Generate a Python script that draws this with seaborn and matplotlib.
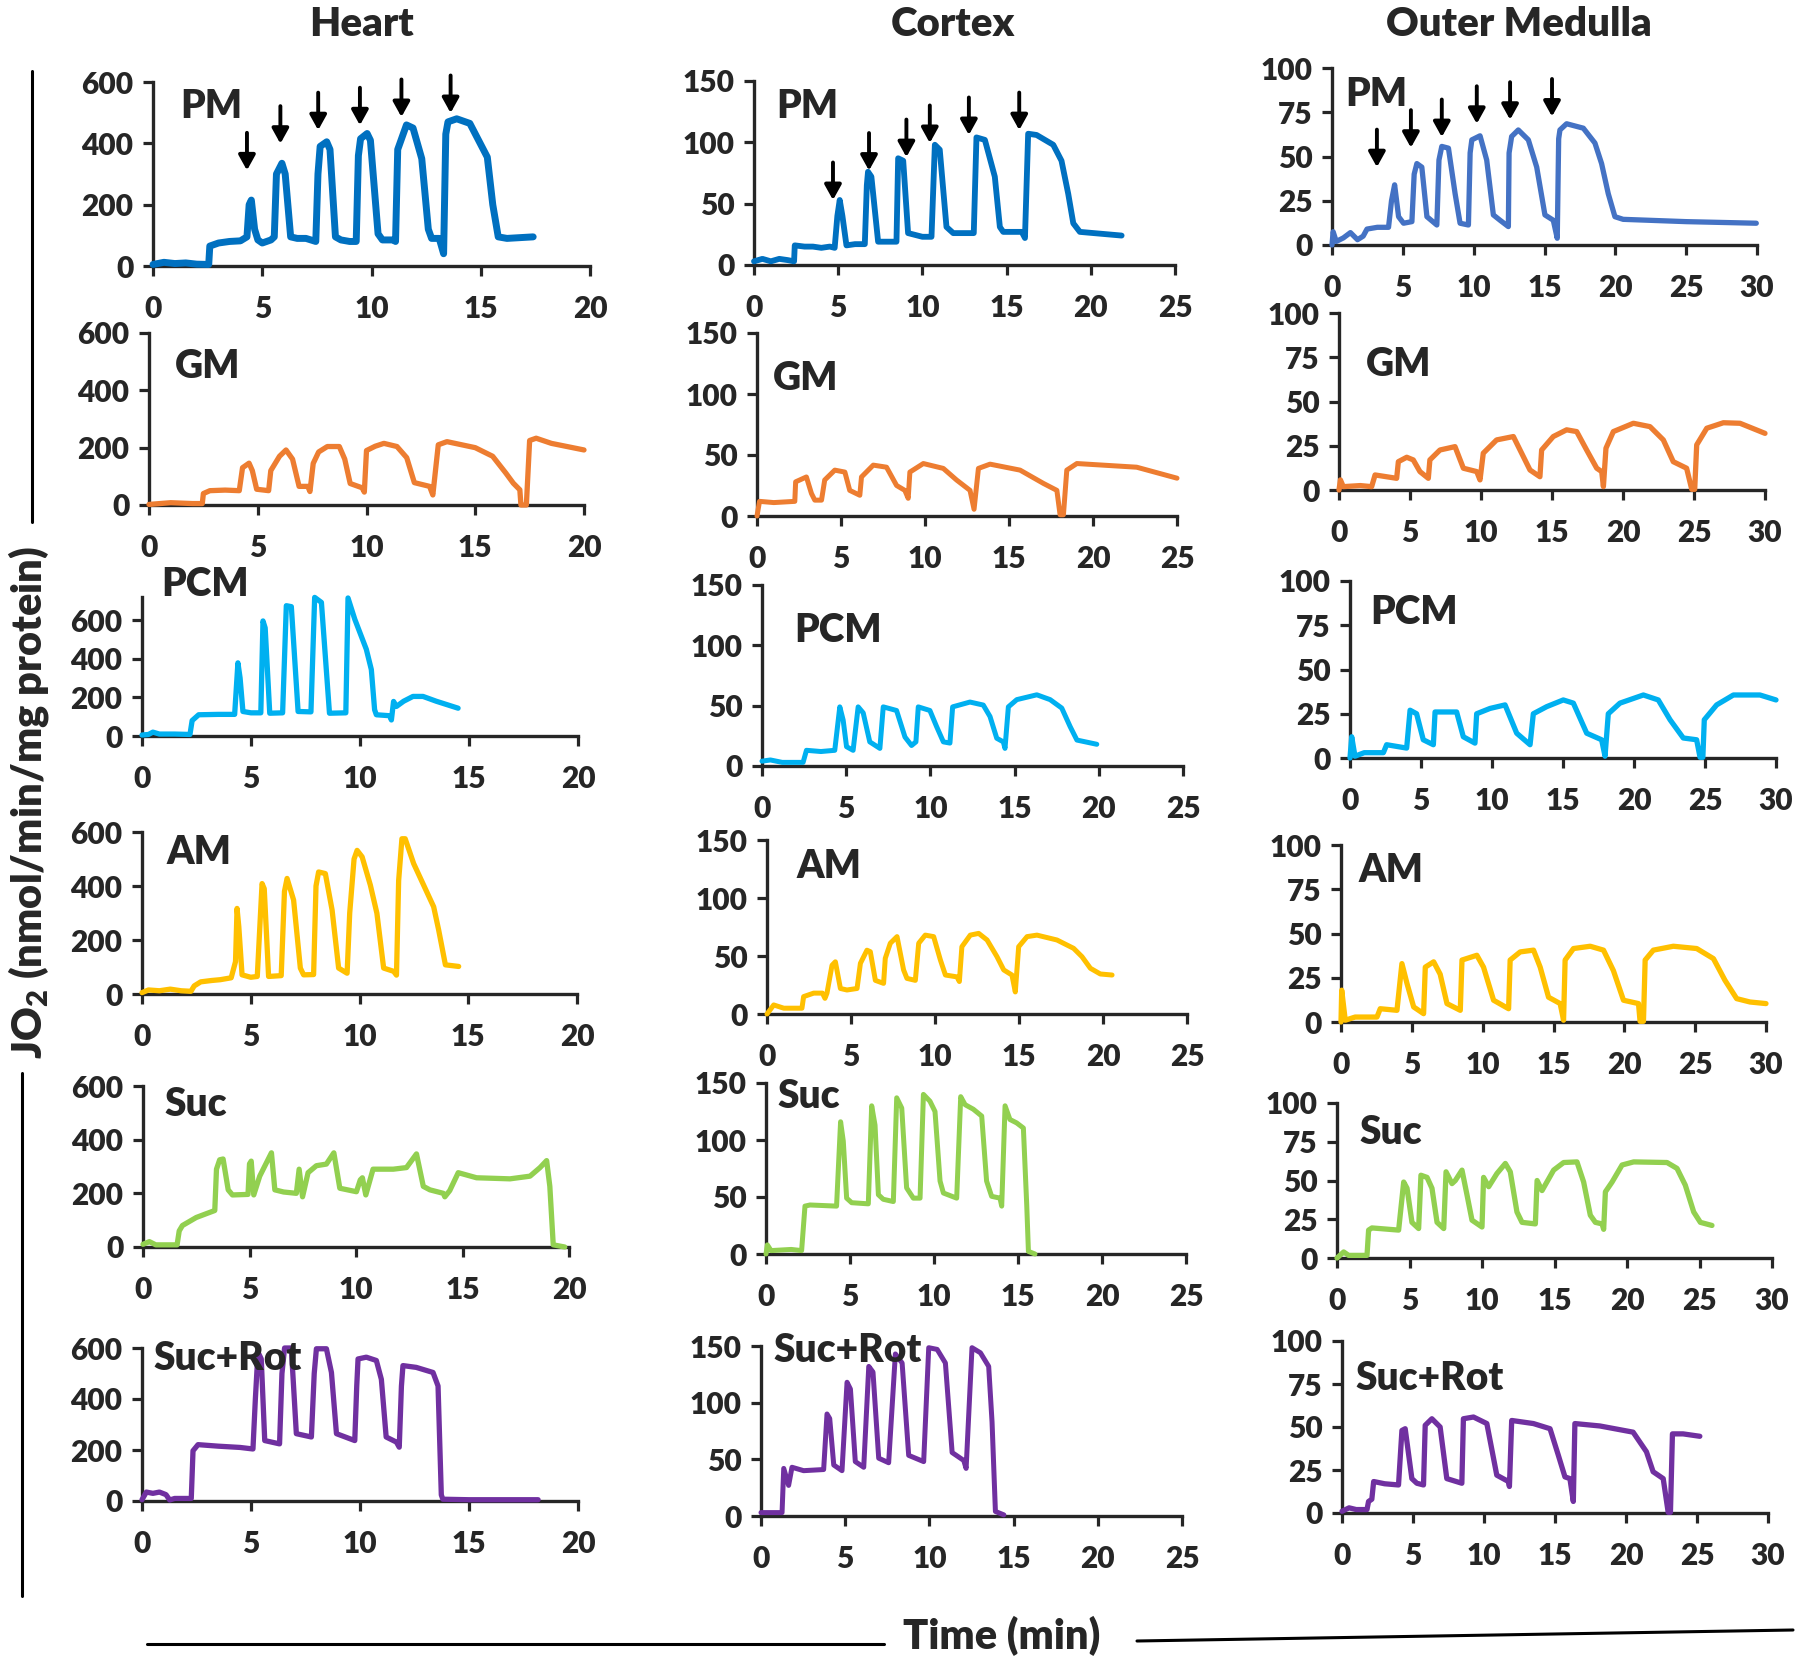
import matplotlib
matplotlib.use("Agg")
import matplotlib.pyplot as plt
from matplotlib.lines import Line2D
import seaborn as sns
import pandas as pd

# ---- traces: (time min, JO2) ----
heart_pm = [(0, 5), (0.5, 12), (1.0, 8), (1.5, 10), (2.0, 6), (2.55, 5), (2.6, 65), (3.0, 75), (3.5, 80),
            (4.0, 82), (4.3, 95), (4.4, 200), (4.5, 215), (4.65, 120), (4.8, 85), (5.0, 75), (5.4, 85),
            (5.55, 95), (5.65, 300), (5.9, 335), (6.05, 300), (6.3, 95), (6.6, 90), (7.0, 90), (7.45, 80),
            (7.55, 300), (7.65, 390), (7.95, 405), (8.1, 380), (8.35, 95), (8.6, 85), (9.0, 80), (9.3, 80),
            (9.4, 360), (9.5, 415), (9.8, 432), (9.95, 410), (10.3, 105), (10.5, 85), (11.0, 85), (11.1, 80),
            (11.2, 380), (11.6, 460), (11.9, 450), (12.3, 350), (12.6, 120), (12.75, 90), (13.1, 90),
            (13.3, 40), (13.4, 430), (13.5, 470), (13.9, 480), (14.5, 465), (14.9, 410), (15.3, 355),
            (15.55, 200), (15.8, 95), (16.2, 90), (17.4, 95)]
heart_gm = [(0, 2), (1, 8), (2, 5), (2.45, 5), (2.5, 40), (2.8, 50), (3.5, 52), (4.15, 50), (4.3, 130),
            (4.6, 146), (4.75, 120), (4.95, 55), (5.5, 50), (5.6, 120), (6.0, 170), (6.3, 192), (6.6, 160),
            (6.9, 65), (7.3, 65), (7.4, 47), (7.55, 145), (7.8, 185), (8.2, 204), (8.75, 204), (9.0, 160),
            (9.25, 75), (9.8, 60), (9.9, 45), (10.0, 190), (10.4, 205), (10.8, 215), (11.4, 204),
            (11.85, 165), (12.2, 78), (12.9, 65), (13.05, 35), (13.3, 210), (13.7, 221), (15.0, 200),
            (15.8, 170), (16.4, 112), (16.75, 76), (17.05, 53), (17.1, 0), (17.35, 0), (17.5, 225),
            (17.8, 233), (18.5, 215), (20, 192)]
heart_pcm = [(0, 5), (0.3, 8), (0.5, 20), (0.8, 10), (1.5, 10), (2.2, 8), (2.3, 80), (2.6, 110), (3.5, 112),
             (4.25, 112), (4.4, 379), (4.5, 300), (4.63, 127), (5.0, 120), (5.45, 120), (5.55, 596),
             (5.65, 560), (5.86, 118), (6.45, 120), (6.62, 675), (6.85, 670), (7.16, 127), (7.75, 125),
             (7.92, 718), (8.23, 692), (8.6, 118), (9.35, 120), (9.45, 715), (9.76, 605), (10.29, 449),
             (10.52, 344), (10.67, 136), (10.75, 110), (11.36, 105), (11.44, 83), (11.54, 179), (11.67, 153),
             (12.0, 180), (12.43, 205), (12.89, 205), (13.5, 180), (14.5, 144)]
heart_am = [(0, 5), (0.3, 15), (0.8, 12), (1.3, 18), (1.8, 12), (2.25, 10), (2.4, 30), (2.7, 45), (3.2, 50),
            (3.6, 53), (4.1, 60), (4.3, 120), (4.37, 317), (4.45, 250), (4.6, 71), (5.0, 62), (5.3, 65),
            (5.45, 300), (5.52, 409), (5.62, 390), (5.82, 65), (6.4, 68), (6.55, 380), (6.67, 428),
            (6.97, 348), (7.28, 96), (7.43, 71), (7.89, 72), (8.0, 400), (8.12, 452), (8.43, 446),
            (8.74, 311), (9.04, 96), (9.43, 77), (9.55, 300), (9.75, 500), (9.89, 532), (10.12, 508),
            (10.5, 403), (10.8, 299), (11.11, 96), (11.57, 84), (11.7, 70), (11.8, 420), (11.95, 575),
            (12.1, 575), (12.49, 483), (12.95, 403), (13.41, 323), (13.64, 237), (13.95, 108), (14.56, 102)]
heart_suc = [(0, 10), (0.3, 20), (0.6, 8), (1.6, 8), (1.7, 60), (1.85, 80), (2.5, 110), (3.0, 125),
             (3.37, 136), (3.45, 290), (3.6, 325), (3.76, 328), (4.0, 213), (4.2, 194), (4.93, 196),
             (5.0, 310), (5.08, 320), (5.2, 194), (5.48, 264), (6.03, 351), (6.19, 213), (6.6, 205),
             (7.2, 200), (7.33, 290), (7.49, 187), (7.75, 277), (8.14, 303), (8.61, 309), (8.96, 351),
             (9.24, 219), (10.02, 206), (10.2, 250), (10.3, 258), (10.46, 194), (10.8, 290), (11.75, 290),
             (12.37, 296), (12.84, 347), (13.16, 226), (13.47, 213), (14.1, 200), (14.17, 187), (14.4, 210),
             (14.8, 277), (15.66, 258), (17.23, 254), (18.17, 264), (18.64, 296), (18.95, 322), (19.1, 226),
             (19.26, 8), (19.8, 0)]
heart_sucrot = [(0, 5), (0.2, 35), (0.5, 30), (0.8, 35), (1.1, 25), (1.27, 4), (1.5, 10), (2.26, 10),
                (2.34, 197), (2.57, 221), (3.5, 215), (4.5, 210), (5.09, 204), (5.2, 400), (5.32, 584),
                (5.47, 557), (5.63, 237), (6.31, 224), (6.42, 500), (6.54, 600), (6.85, 600), (7.08, 264),
                (7.77, 251), (7.9, 500), (8.0, 597), (8.46, 597), (8.69, 504), (8.92, 264), (9.76, 237),
                (9.85, 450), (9.91, 557), (10.29, 564), (10.75, 551), (10.98, 477), (11.2, 251), (11.67, 231),
                (11.8, 211), (11.9, 450), (11.97, 531), (12.58, 524), (13.35, 504), (13.58, 451), (13.73, 24),
                (13.8, 7), (15, 5), (18.17, 5)]

cortex_pm = [(0, 3), (0.5, 5), (1.0, 3), (1.5, 5), (2.0, 4), (2.38, 3), (2.42, 16), (3.0, 15), (3.5, 15),
             (4.0, 14), (4.5, 15), (4.79, 14), (4.95, 40), (5.09, 53), (5.25, 40), (5.49, 16), (6.0, 17),
             (6.58, 17), (6.7, 65), (6.77, 76), (6.97, 72), (7.37, 19), (8.46, 19), (8.56, 87), (8.86, 85),
             (9.15, 26), (10.0, 23), (10.54, 23), (10.74, 98), (11.03, 94), (11.43, 31), (11.83, 26),
             (13.05, 26), (13.21, 104), (13.71, 102), (14.3, 72), (14.6, 31), (14.8, 27), (15.9, 27),
             (16.09, 22), (16.28, 107), (16.78, 106), (17.77, 98), (18.26, 85), (18.66, 58), (18.96, 34),
             (19.35, 27), (21.83, 24)]
cortex_gm = [(0, 0), (0.15, 12), (1, 11), (2.25, 12), (2.3, 28), (2.94, 32), (3.24, 18.5), (3.44, 13),
             (3.84, 13), (4.03, 29.5), (4.63, 37.6), (5.23, 36), (5.52, 21), (6.12, 17), (6.22, 32),
             (6.92, 41.7), (7.71, 40), (8.31, 25), (8.8, 21), (9.0, 14.5), (9.1, 36), (9.9, 43), (11.09, 39),
             (11.88, 29.5), (12.68, 21), (12.92, 5.5), (13.18, 39), (13.87, 42.5), (15.66, 37.6),
             (17.05, 26.7), (17.85, 21), (18.04, 1), (18.24, 1), (18.44, 37.6), (19.04, 43), (22.6, 40),
             (25, 31)]
cortex_pcm = [(0, 4), (0.5, 5), (1.2, 3), (2.0, 3), (2.44, 3), (2.64, 13), (3.5, 12), (4.32, 13), (4.62, 49),
              (4.82, 38), (5.02, 16), (5.41, 13), (5.71, 49), (6.01, 44), (6.4, 20), (7.0, 14.6), (7.2, 49),
              (7.99, 46), (8.49, 24), (8.88, 17), (9.14, 20), (9.28, 49), (9.97, 46), (10.37, 32.6),
              (10.77, 20), (11.16, 19), (11.32, 49), (12.35, 53), (13.14, 50.5), (13.54, 41), (13.94, 23),
              (14.33, 20), (14.43, 14.6), (14.63, 49), (15.13, 55), (16.32, 59), (17.11, 55), (17.8, 48),
              (18.3, 32.6), (18.7, 21.5), (19.88, 18)]
cortex_am = [(0, 0), (0.4, 7.8), (1.0, 5), (2.08, 5), (2.18, 15), (2.78, 18), (3.3, 18), (3.45, 13.5),
             (3.57, 18), (3.87, 42), (4.07, 45), (4.37, 22), (4.76, 20.7), (5.36, 22), (5.56, 43.7),
             (5.95, 55), (6.15, 53.7), (6.45, 29), (6.94, 26.4), (7.04, 48), (7.34, 61), (7.74, 66.7),
             (8.13, 38), (8.33, 30.7), (8.83, 29), (9.03, 61), (9.42, 68), (9.92, 66.7), (10.32, 46.6),
             (10.62, 33.6), (11.31, 32), (11.45, 28), (11.6, 58), (12.1, 68), (12.6, 69.5), (13.1, 63.8),
             (13.69, 49.4), (14.09, 38), (14.58, 33.6), (14.78, 19), (14.98, 58), (15.48, 66.7), (16.07, 68),
             (17.26, 63.8), (18.25, 56.6), (18.75, 49.4), (19.25, 39.4), (19.84, 34.5), (20.54, 33.6)]
cortex_suc = [(0, 0), (0.08, 8), (0.3, 3), (1.5, 4), (2.12, 3), (2.32, 42), (2.62, 43), (4.2, 42),
              (4.44, 116), (4.6, 99), (4.8, 49), (5.1, 45), (6.09, 44), (6.29, 130), (6.49, 113), (6.69, 52),
              (6.98, 48), (7.58, 46), (7.78, 137), (8.08, 128), (8.37, 58), (8.77, 49), (9.17, 49),
              (9.37, 140), (9.76, 134), (10.06, 125), (10.36, 64), (10.56, 53.5), (11.35, 49), (11.59, 138),
              (11.85, 131), (12.34, 127), (12.84, 121), (13.13, 64), (13.43, 50.6), (13.93, 49), (14.03, 42),
              (14.23, 130), (14.52, 118), (14.92, 115), (15.32, 110.5), (15.52, 43), (15.62, 2.3), (16.01, 0)]
cortex_sucrot = [(0, 3), (1.25, 3), (1.35, 42), (1.64, 27), (1.84, 43), (2.53, 40), (3.72, 41), (3.92, 90),
                 (4.08, 86), (4.32, 45), (4.81, 40), (5.11, 118), (5.31, 112), (5.6, 48), (6.1, 43),
                 (6.4, 132), (6.65, 127), (6.99, 51), (7.58, 47), (7.98, 143), (8.38, 135), (8.77, 53.5),
                 (9.66, 48), (9.96, 148.5), (10.46, 147), (10.95, 135), (11.35, 56), (12.04, 49),
                 (12.18, 42), (12.53, 148.5), (13.03, 144), (13.52, 132), (13.72, 83), (13.92, 4), (14.42, 1)]

om_pm = [(0, 0), (0.08, 7.5), (0.3, 2), (0.8, 4), (1.3, 7), (1.8, 3), (2.2, 5), (2.47, 9), (3.2, 10),
         (3.99, 10), (4.2, 25), (4.42, 34), (4.7, 16), (5.05, 12.3), (5.64, 13.2), (5.8, 40), (5.99, 46),
         (6.34, 44), (6.7, 16), (7.4, 11.3), (7.55, 48), (7.75, 55.7), (8.22, 54.7), (8.69, 29),
         (9.04, 12.3), (9.63, 11.3), (9.75, 52), (9.87, 59.4), (10.45, 61.7), (10.92, 48), (11.39, 17),
         (11.86, 14), (12.45, 10.4), (12.5, 52), (12.68, 61.3), (13.15, 65), (13.86, 59.4), (14.45, 44),
         (15.03, 17), (15.62, 14), (15.9, 3.8), (16.0, 60), (16.09, 65), (16.56, 68.5), (17.74, 66),
         (18.56, 57.6), (19.03, 46), (19.5, 29), (19.97, 16), (20.55, 14.5), (25, 13.2), (29.95, 12.3)]
om_gm = [(0, 0), (0.1, 5.7), (0.3, 1.9), (1.5, 2.5), (2.3, 1.9), (2.54, 8.5), (4.06, 6.6), (4.18, 16),
         (4.77, 18.5), (5.23, 17), (5.7, 10.4), (6.29, 6.6), (6.4, 17), (7.11, 22.6), (8.17, 24.5),
         (8.76, 12.3), (9.7, 10.4), (9.93, 5.7), (10.16, 20.8), (11.1, 28.3), (12.28, 30.2), (12.75, 22.6),
         (13.45, 11.3), (14.15, 7.5), (14.27, 22.6), (15.09, 30.2), (16.03, 34), (16.74, 33), (17.44, 22.6),
         (18.15, 12.3), (18.5, 10.4), (18.62, 1.9), (18.8, 23.6), (19.32, 33), (20.73, 37.7), (21.9, 35.8),
         (22.84, 28.3), (23.54, 16), (24.48, 12.3), (24.84, 0.4), (25.05, 0.4), (25.19, 25.5), (25.9, 34.9),
         (27.07, 38), (28.24, 37.7), (30, 32)]
om_pcm = [(0, 0), (0.12, 12), (0.35, 1), (1.0, 3), (2.35, 3), (2.58, 7.5), (3.99, 5.6), (4.23, 27),
          (4.69, 25), (5.16, 10.3), (5.87, 7.5), (5.99, 26), (7.51, 26), (7.98, 12), (8.8, 8.4), (8.92, 25),
          (9.86, 28), (10.92, 30), (11.74, 14), (12.68, 7.5), (12.91, 25), (13.85, 29), (15.02, 32.8),
          (15.73, 31), (16.67, 14), (17.72, 10.3), (17.96, 1), (18.19, 25), (19.01, 31), (20.66, 35.6),
          (21.71, 32.8), (22.54, 21.6), (23.47, 11.3), (24.41, 10.3), (24.65, 0.4), (24.85, 0.4),
          (24.95, 21.6), (25.82, 30), (27.0, 35.6), (28.87, 35.6), (30, 32.8)]
om_am = [(0, 0), (0.05, 18), (0.3, 1), (1.0, 2.8), (2.54, 2.8), (2.77, 7.5), (3.95, 6.6), (4.3, 33),
         (4.66, 21.7), (5.13, 8.5), (5.83, 4.7), (5.95, 31), (6.54, 34), (7.0, 27), (7.48, 10.4), (8.42, 6.6),
         (8.54, 35), (9.59, 37.7), (10.06, 31), (10.77, 12.3), (11.83, 7.5), (11.94, 35), (12.65, 39.6),
         (13.59, 40.6), (14.06, 31), (14.65, 14), (15.47, 10.4), (15.71, 1), (15.82, 35), (16.41, 41.5),
         (17.59, 42.8), (18.53, 40.6), (19.23, 29), (19.94, 12.3), (21.0, 10.4), (21.11, 0.4), (21.35, 0.4),
         (21.47, 35), (22.05, 40.6), (23.46, 42.8), (25.11, 41.5), (26.29, 35.8), (27.1, 23.6),
         (27.93, 13.2), (28.87, 11.3), (30, 10.4)]
om_suc = [(0, 0), (0.46, 3.9), (0.8, 1.7), (2.07, 1.7), (2.18, 18), (2.41, 19.4), (4.25, 18), (4.6, 49),
          (4.83, 45), (5.17, 23), (5.63, 19), (5.79, 53.4), (6.21, 52), (6.55, 45), (6.9, 23), (7.36, 19),
          (7.52, 55.6), (7.93, 48), (8.16, 50), (8.62, 56.7), (8.97, 40.5), (9.31, 24.4), (10.0, 20),
          (10.11, 52), (10.46, 46), (11.03, 54.5), (11.61, 61), (11.95, 55.6), (12.41, 29.7), (12.76, 23),
          (13.68, 22), (13.8, 50), (14.14, 43.5), (14.94, 56.7), (15.63, 61.6), (16.55, 62), (17.01, 49),
          (17.47, 27.6), (17.82, 23), (18.28, 22), (18.39, 18.5), (18.51, 42.7), (18.97, 49), (19.66, 60),
          (20.46, 62), (22.76, 61.6), (23.45, 57.8), (24.02, 47), (24.6, 29.7), (25.06, 23), (25.86, 21)]
om_sucrot = [(0, 1), (0.5, 3), (1.0, 2), (1.76, 2), (1.87, 6.7), (2.1, 8), (2.23, 18.3), (3.0, 17),
             (3.98, 16.3), (4.22, 48), (4.45, 49), (4.92, 20), (5.27, 17.3), (5.74, 16.3), (5.86, 51),
             (6.33, 54.8), (6.91, 50), (7.38, 20), (8.44, 17.3), (8.55, 54.8), (9.26, 55.8), (10.2, 52),
             (10.9, 22), (11.72, 18.3), (11.79, 15.4), (11.95, 53.8), (13.48, 52), (14.65, 49), (15.23, 33.7),
             (15.7, 21), (16.05, 20), (16.29, 6.7), (16.4, 52), (18.16, 50.6), (20.5, 47), (21.44, 35.6),
             (21.91, 24), (22.62, 20), (22.97, 0.4), (23.13, 0.4), (23.27, 46), (24.02, 46), (25.2, 44.6)]

# substrate additions (arrow time, arrow tip value)
heart_arrow_t = [4.3, 5.83, 7.56, 9.47, 11.37, 13.62]
heart_arrow_v = [312, 399, 443, 459, 486, 499]
cortex_arrow_t = [4.69, 6.83, 9.05, 10.44, 12.76, 15.75]
cortex_arrow_v = [53, 77, 88, 99.5, 106, 110]
om_arrow_t = [3.17, 5.57, 7.75, 10.22, 12.57, 15.53]
om_arrow_v = [44, 55, 61, 68.5, 70.8, 72.6]

tissues = ["Heart", "Cortex", "Outer Medulla"]
substrates = ["PM", "GM", "PCM", "AM", "Suc", "Suc+Rot"]
colors = {"PM": "#0070C0", "GM": "#ED7D31", "PCM": "#00B0F0", "AM": "#FFC000",
          "Suc": "#92D050", "Suc+Rot": "#7030A0"}

W, H = 1800, 1663
WEIGHT = "heavy"

sns.set_style("ticks")
plt.rcParams["font.family"] = ["Lato", "DejaVu Sans"]
plt.rcParams["font.weight"] = WEIGHT
plt.rcParams["mathtext.default"] = "regular"

fig = plt.figure(figsize=(W / 100, H / 100), dpi=100)


def px_rect(x0, x1, ytop, ybot):
    return [x0 / W, 1 - ybot / H, (x1 - x0) / W, (ybot - ytop) / H]


def draw_panel(rect, trace, color, ymax, yticks, xmax, lw=3.6):
    ax = fig.add_axes(px_rect(*rect))
    df = pd.DataFrame(trace, columns=["t", "v"])
    sns.lineplot(data=df, x="t", y="v", ax=ax, color=color, lw=lw,
                 sort=False, estimator=None, zorder=3)
    line = ax.lines[-1]
    line.set_clip_on(False)
    line.set_solid_joinstyle("round")
    line.set_solid_capstyle("round")
    ax.set_xlim(0, xmax)
    ax.set_ylim(0, ymax)
    ax.set_xticks(range(0, xmax + 1, 5))
    ax.set_yticks(yticks)
    ax.set_xlabel("")
    ax.set_ylabel("")
    sns.despine(ax=ax)
    for side in ["left", "bottom"]:
        ax.spines[side].set_linewidth(2.4)
    ax.tick_params(axis="both", direction="out", length=7, width=2.3, labelsize=21.5)
    ax.tick_params(axis="x", pad=14)
    ax.tick_params(axis="y", pad=7)
    for lab in ax.get_xticklabels() + ax.get_yticklabels():
        lab.set_fontweight(WEIGHT)
    ax.patch.set_alpha(0)
    return ax


def add_arrows(ax, ts, vs):
    for t, v in zip(ts, vs):
        ax.annotate("", xy=(t, v), xytext=(0, 27), textcoords="offset points",
                    annotation_clip=False,
                    arrowprops=dict(arrowstyle="-|>,head_length=0.45,head_width=0.25",
                                    color="black", lw=2.8, mutation_scale=20,
                                    shrinkA=0, shrinkB=0))


# panel rectangles in reference pixels: (x0, x1, y_top, y_bottom)
heart_rects = [(153, 590, 82, 266), (149, 584, 333, 505), (142, 578, 597, 736),
               (142, 577, 832, 994), (143, 569, 1086, 1247), (142, 578, 1348, 1501)]
cortex_rects = [(754, 1175, 81, 265), (757, 1177, 333, 516), (762, 1183, 585, 766),
                (767, 1187, 840, 1014), (766, 1186, 1083, 1254), (761, 1182, 1346, 1516)]
om_rects = [(1332, 1757, 68, 245), (1339, 1765, 313, 490), (1350, 1776, 581, 758),
            (1341, 1766, 845, 1022), (1337, 1772, 1103, 1258), (1342, 1768, 1341, 1513)]

heart_traces = [heart_pm, heart_gm, heart_pcm, heart_am, heart_suc, heart_sucrot]
cortex_traces = [cortex_pm, cortex_gm, cortex_pcm, cortex_am, cortex_suc, cortex_sucrot]
om_traces = [om_pm, om_gm, om_pcm, om_am, om_suc, om_sucrot]

# label anchors (left edge, vertical centre) in reference pixels
heart_lab = [(180, 106), (175, 367), (161, 585), (166, 852), (164, 1105), (153, 1358)]
cortex_lab = [(776, 106), (773, 379), (794, 631), (797, 866), (777, 1097), (773, 1351)]
om_lab = [(1345, 94), (1366, 365), (1370, 612), (1359, 871), (1359, 1132), (1355, 1379)]

for i, sub in enumerate(substrates):
    hmax = 720 if sub == "PCM" else 600
    ax = draw_panel(heart_rects[i], heart_traces[i], colors[sub], hmax, [0, 200, 400, 600], 20,
                    lw=5.0 if sub == "PM" else 3.8)
    if sub == "PM":
        add_arrows(ax, heart_arrow_t, heart_arrow_v)
    ax = draw_panel(cortex_rects[i], cortex_traces[i], colors[sub], 150, [0, 50, 100, 150], 25,
                    lw=4.2 if sub == "PM" else 3.6)
    if sub == "PM":
        add_arrows(ax, cortex_arrow_t, cortex_arrow_v)
    ax = draw_panel(om_rects[i], om_traces[i], "#4472C4" if sub == "PM" else colors[sub],
                    100, [0, 25, 50, 75, 100], 30, lw=3.8)
    if sub == "PM":
        add_arrows(ax, om_arrow_t, om_arrow_v)
    for (lx, ly) in (heart_lab[i], cortex_lab[i], om_lab[i]):
        fig.text(lx / W, 1 - ly / H, sub, fontsize=28, fontweight=WEIGHT, ha="left", va="center")

# column titles
for name, cx in zip(tissues, [315 * 1.148, 830 * 1.148, 1323 * 1.148]):
    fig.text(cx / W, 1 - 24 / H, name, fontsize=29, fontweight=WEIGHT, ha="center", va="center")

fig.text(1002 / W, 1 - 1636 / H, "Time (min)", fontsize=30, fontweight=WEIGHT,
         ha="center", va="center")
fig.text(29 / W, 1 - 802 / H, r"JO$_2$ (nmol/min/mg protein)", fontsize=30, fontweight=WEIGHT,
         rotation=90, ha="center", va="center")

# bracket lines around the axis titles
for xs, ys in [([32, 32], [71, 522]), ([22, 22], [1073, 1596]),
               ([147, 884], [1644, 1644]), ([1137, 1793], [1641, 1630])]:
    fig.add_artist(Line2D([x / W for x in xs], [1 - y / H for y in ys], color="black", lw=2.2))

fig.savefig("out.png", dpi=100)
